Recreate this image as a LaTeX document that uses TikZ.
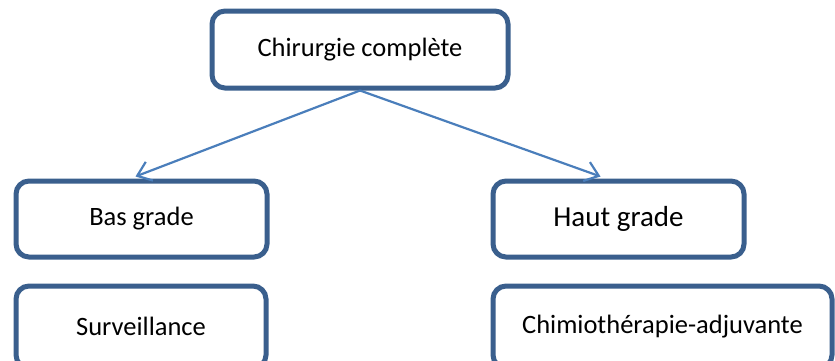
\documentclass[tikz,border=0pt]{standalone}
\usepackage{fontspec}
\setmainfont{Carlito}
\usetikzlibrary{arrows.meta}
\definecolor{boxblue}{HTML}{3A5F8D}
\definecolor{arrowblue}{HTML}{4A7EBB}
\tikzset{
  box/.style={draw=boxblue, line width=5pt, rounded corners=13pt, fill=white,
    inner sep=0pt, align=center, text=black},
  link/.style={draw=arrowblue, line width=2.2pt, -{Straight Barb[length=13pt,width=20pt,line width=2.2pt]}},
  smalltxt/.style={font=\fontsize{26.5}{31}\selectfont},
}
\begin{document}
\begin{tikzpicture}[x=1pt,y=-1pt]
\useasboundingbox (0,0) rectangle (835,360);
\clip (0,0) rectangle (835,360);
\node[box, minimum width=296pt, minimum height=77pt, font=\fontsize{26.5}{31}\selectfont] (top) at (360,49.5) {Chirurgie complète};
\node[box, smalltxt, minimum width=251pt, minimum height=76pt] (bas) at (141.5,219) {\raisebox{-3pt}{Bas grade}};
\node[box, minimum width=251pt, minimum height=76pt, font=\fontsize{29}{34}\selectfont] (haut) at (618.5,219) {Haut grade};
\node[box, smalltxt, minimum width=250pt, minimum height=82pt] (surv) at (141,327) {\raisebox{2pt}{Surveillance}};
\node[box, smalltxt, minimum width=339pt, minimum height=82pt] (chimio) at (662.5,327) {\raisebox{2pt}{Chimiothérapie-adjuvante}};
\draw[link] (top.south) -- ([xshift=-6pt,yshift=2pt]bas.north);
\draw[link] (top.south) -- ([xshift=-18pt,yshift=2pt]haut.north);
\end{tikzpicture}
\end{document}
